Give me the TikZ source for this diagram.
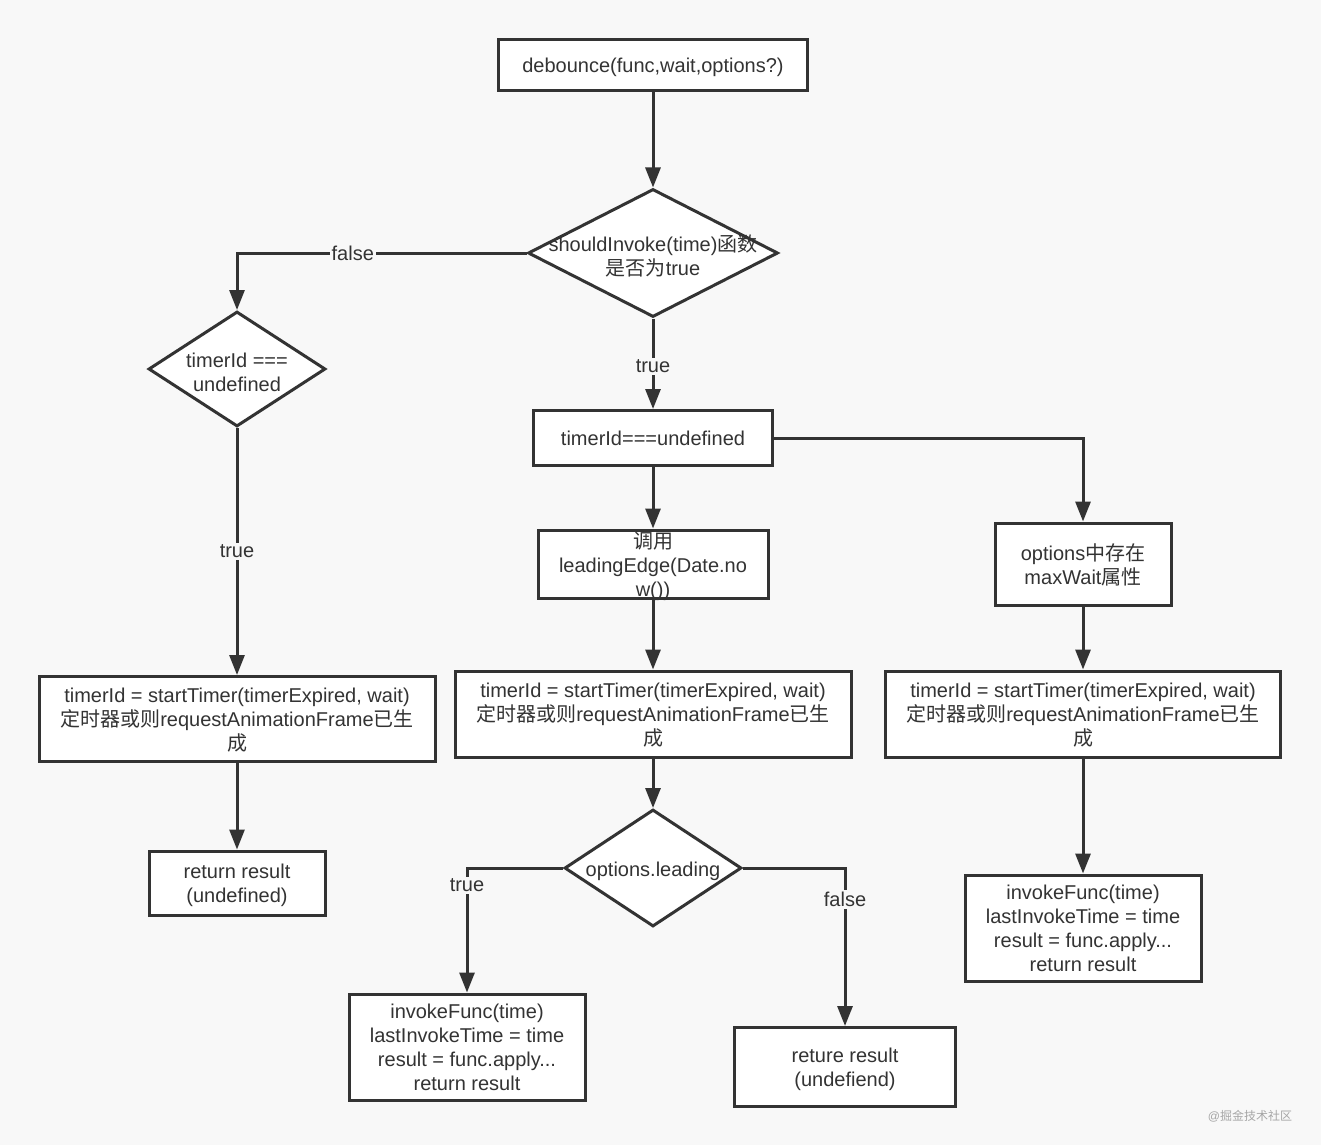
\documentclass[tikz,border=0pt]{standalone}
\usepackage{fontspec}
\setmainfont{Liberation Sans}
\newfontfamily\cjkfont{Noto Sans CJK SC}
\newcommand{\zh}[1]{{\cjkfont #1}}
\usepackage{tikz}
\usetikzlibrary{shapes.geometric, arrows.meta}
\definecolor{Canvas}{HTML}{F8F8F8}
\definecolor{Ink}{HTML}{333333}
\tikzstyle{Step_Box} = [rectangle,
                        inner sep=0pt,
                        text depth=0pt,
                        align=center,
                        draw=Ink,
                        line width=3pt,
                        fill=white]
\tikzstyle{Decision} = [diamond,
                        inner sep=0pt,
                        draw=Ink,
                        line width=3pt,
                        fill=white]
\tikzstyle{Decision_Text} = [align=center,
                             inner sep=0pt,
                             yshift=-3pt]
\tikzstyle{Flow_Arrow} = [draw=Ink,
                          line width=3pt,
                          -{Triangle[length=20pt, width=15pt]}]
\tikzstyle{Flow_Label} = [fill=Canvas,
                          inner sep=2pt,
                          text=Ink]

\begin{document}
\begin{tikzpicture}[x=1pt, y=-1pt, node distance=100pt,
                    font=\fontsize{20}{24}\selectfont, text=Ink]
        \fill [Canvas] (0,0) rectangle (1321,1145);
        \useasboundingbox (0,0) rectangle (1321,1145);

        \node (Debounce) [Step_Box, minimum width=309pt, minimum height=51pt] at (653,65) {debounce(func,wait,options?)};

        \node (Should_Invoke) [Decision, minimum width=250pt, minimum height=128pt, below of=Debounce, yshift=-88pt] {};
        \node (Should_Invoke_Text) [Decision_Text] at (Should_Invoke) {shouldInvoke(time)\zh{函数}\\\zh{是否为}true};

        \node (Timer_Check) [Decision, minimum width=177pt, minimum height=115pt, left of=Should_Invoke, xshift=-316pt, yshift=-116pt] {};
        \node (Timer_Check_Text) [Decision_Text] at (Timer_Check) {timerId ===\\undefined};

        \node (Timer_Undefined) [Step_Box, minimum width=239pt, minimum height=55pt, below of=Should_Invoke, yshift=-85pt] {timerId===undefined};
        \node (Call_Leading) [Step_Box, minimum width=230pt, minimum height=68pt, below of=Timer_Undefined, yshift=-26pt] {\zh{调用}\\leadingEdge(Date.no\\w())};
        \node (Opt_Max) [Step_Box, minimum width=176pt, minimum height=82pt, right of=Call_Leading, xshift=330pt] {options\zh{中存在}\\maxWait\zh{属性}};

        \node (Start_L) [Step_Box, minimum width=396pt, minimum height=85pt, below of=Timer_Check, yshift=-250pt] {timerId = startTimer(timerExpired, wait)\\\zh{定时器或则}requestAnimationFrame\zh{已生}\\\zh{成}};
        \node (Start_M) [Step_Box, minimum width=396pt, minimum height=86pt, below of=Call_Leading, yshift=-50pt] {timerId = startTimer(timerExpired, wait)\\\zh{定时器或则}requestAnimationFrame\zh{已生}\\\zh{成}};
        \node (Start_R) [Step_Box, minimum width=395pt, minimum height=86pt, below of=Opt_Max, yshift=-50pt] {timerId = startTimer(timerExpired, wait)\\\zh{定时器或则}requestAnimationFrame\zh{已生}\\\zh{成}};

        \node (Return_L) [Step_Box, minimum width=176pt, minimum height=64pt, below of=Start_L, yshift=-64pt] {return result\\(undefined)};

        \node (Leading) [Decision, minimum width=177pt, minimum height=117pt, below of=Start_M, yshift=-54pt] {};
        \node (Leading_Text) [Decision_Text] at (Leading) {options.leading};

        \node (Invoke_M) [Step_Box, minimum width=236pt, minimum height=106pt, below of=Leading, xshift=-186pt, yshift=-79pt] {invokeFunc(time)\\lastInvokeTime = time\\result = func.apply...\\return result};
        \node (Return_M) [Step_Box, minimum width=221pt, minimum height=79pt, below of=Leading, xshift=192pt, yshift=-99pt] {reture result\\(undefiend)};
        \node (Invoke_R) [Step_Box, minimum width=236pt, minimum height=106pt, below of=Start_R, yshift=-114pt] {invokeFunc(time)\\lastInvokeTime = time\\result = func.apply...\\return result};

        \node (Watermark) [font=\fontsize{12}{14}\selectfont, text=gray!70] at (1250,1116) {@\zh{掘金技术社区}};

        \draw [Flow_Arrow] (Debounce) -- (Should_Invoke);
        \draw [Flow_Arrow] (Should_Invoke.west) -| node [Flow_Label, pos=0.3] {false} (Timer_Check.north);
        \draw [Flow_Arrow] (Should_Invoke) -- node [Flow_Label, pos=0.53] {true} (Timer_Undefined);
        \draw [Flow_Arrow] (Timer_Check) -- node [Flow_Label] {true} (Start_L);
        \draw [Flow_Arrow] (Start_L) -- (Return_L);
        \draw [Flow_Arrow] (Timer_Undefined) -- (Call_Leading);
        \draw [Flow_Arrow] (Timer_Undefined.east) -| (Opt_Max.north);
        \draw [Flow_Arrow] (Call_Leading) -- (Start_M);
        \draw [Flow_Arrow] (Opt_Max) -- (Start_R);
        \draw [Flow_Arrow] (Start_M) -- (Leading);
        \draw [Flow_Arrow] (Start_R) -- (Invoke_R);
        \draw [Flow_Arrow] (Leading.west) -| node [Flow_Label, pos=0.57] {true} (Invoke_M.north);
        \draw [Flow_Arrow] (Leading.east) -| node [Flow_Label, pos=0.6] {false} (Return_M.north);
    \end{tikzpicture}
\end{document}
